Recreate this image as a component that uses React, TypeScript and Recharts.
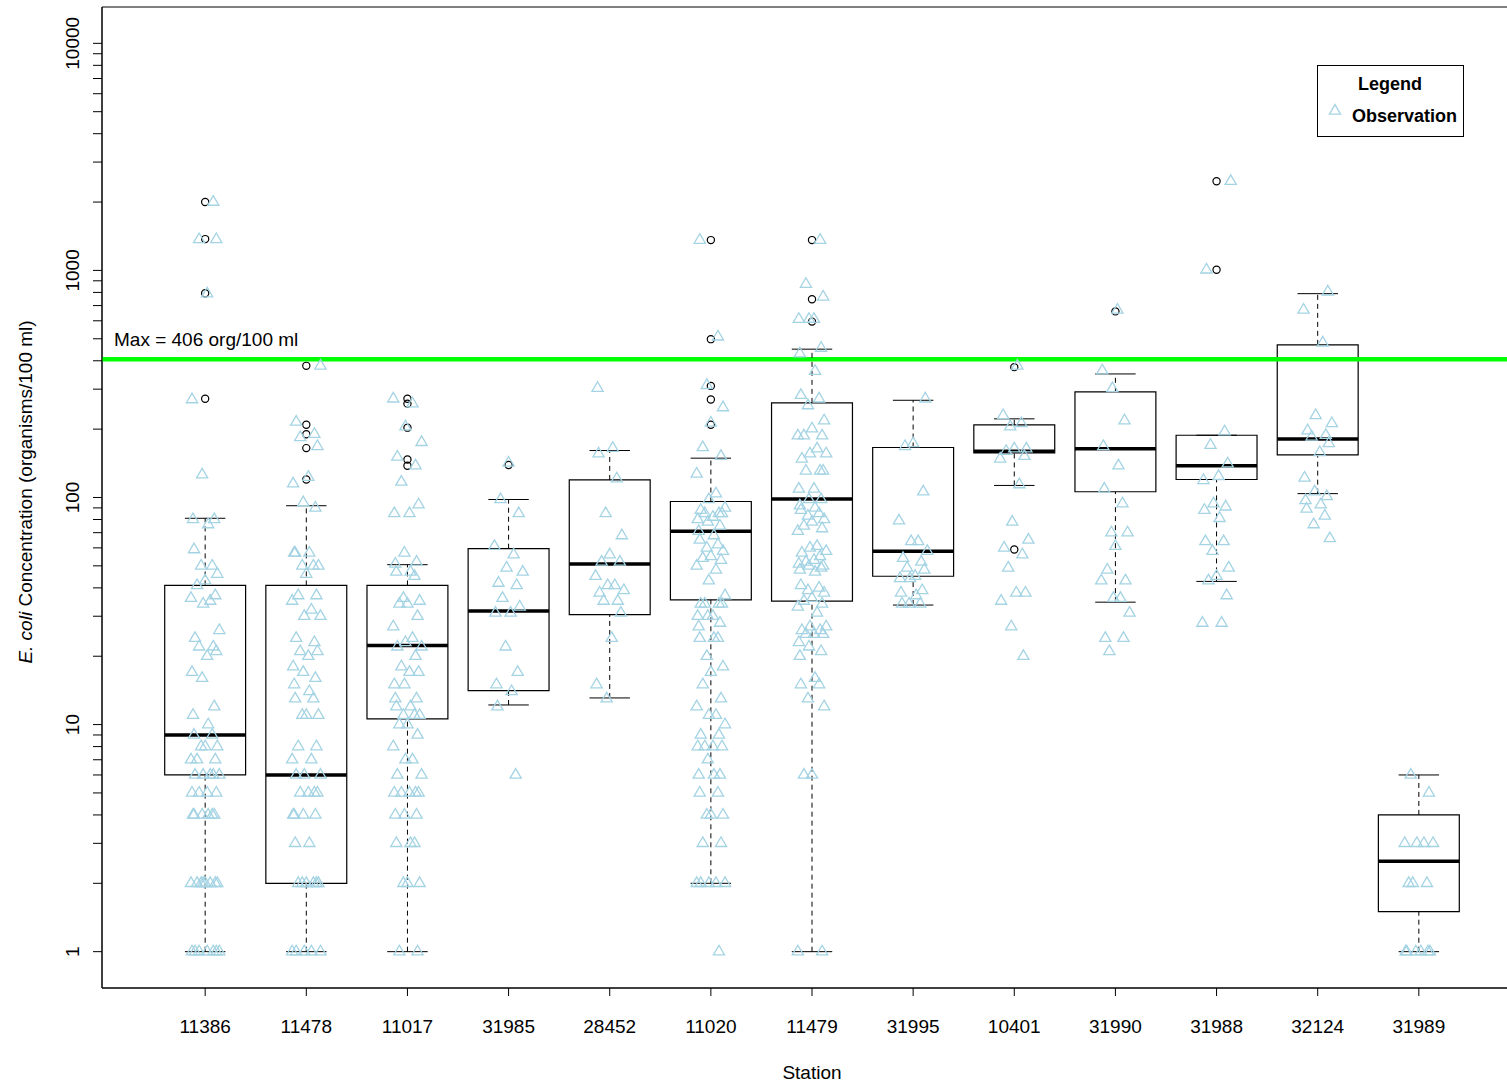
import React from 'react';
import { ComposedChart, Scatter, XAxis, YAxis, ReferenceArea, ReferenceLine, Legend } from 'recharts';

// station order as plotted
const stations = ['11386', '11478', '11017', '31985', '28452', '11020', '11479', '31995', '10401', '31990', '31988', '32124', '31989'];

const obs11386 = [1, 1, 1, 1, 1, 1, 1, 2, 2, 2, 2, 2, 2, 2, 2, 4, 4, 4, 4, 4, 4, 5, 5, 5, 5, 6, 6, 6, 6, 6, 7, 7, 7, 8, 8, 8, 9, 9, 10, 11, 12, 16, 17, 20, 21, 22, 22, 24, 26, 34, 35, 36, 37, 41, 43, 46, 50, 50, 59, 76, 80, 80, 126, 270, 790, 1370, 1370, 2000];
const obs11478 = [1, 1, 1, 1, 1, 2, 2, 2, 2, 2, 2, 3, 3, 4, 4, 4, 4, 5, 5, 5, 5, 6, 6, 6, 7, 7, 8, 8, 11, 11, 11, 13, 13, 14, 15, 16, 17, 18, 20, 21, 21, 23, 24, 30, 30, 32, 35, 37, 37, 46, 50, 50, 50, 57, 57, 57, 90, 95, 115, 123, 168, 184, 190, 215, 380];
const obs11017 = [1, 1, 2, 2, 2, 3, 3, 3, 4, 4, 4, 5, 5, 5, 5, 5, 6, 6, 7, 7, 8, 9, 10, 10, 11, 11, 11, 12, 12, 13, 13, 15, 15, 17, 17, 18, 20, 22, 22, 23, 24, 27, 30, 34, 34, 35, 36, 45, 47, 47, 51, 52, 57, 85, 85, 93, 117, 138, 151, 175, 205, 259, 272];
const obs31985 = [6, 12, 14, 15, 17, 22, 31, 31, 33, 36, 41, 42, 47, 49, 56, 61, 85, 98, 142];
const obs28452 = [13, 15, 24, 31, 35, 35, 38, 39, 41, 41, 45, 52, 52, 56, 68, 85, 121, 156, 165, 303];
const obs11020 = [1, 2, 2, 2, 2, 2, 3, 3, 4, 4, 4, 5, 5, 6, 6, 6, 7, 8, 8, 8, 8, 9, 9, 10, 11, 11, 12, 13, 15, 17, 18, 20, 24, 24, 24, 27, 28, 30, 30, 30, 34, 34, 34, 34, 37, 43, 48, 50, 53, 54, 55, 58, 60, 62, 65, 68, 71, 75, 78, 80, 82, 85, 85, 85, 88, 90, 98, 104, 127, 152, 166, 213, 249, 312, 510, 1360];
const obs11479 = [1, 1, 6, 6, 12, 13, 15, 15, 16, 20, 21, 22, 23, 25, 25, 25, 26, 26, 27, 27, 31, 33, 34, 35, 36, 38, 39, 40, 41, 47, 48, 49, 50, 51, 53, 50, 52, 55, 57, 58, 60, 61, 71, 73, 75, 78, 80, 83, 85, 88, 90, 92, 98, 98, 109, 109, 131, 131, 131, 148, 156, 156, 164, 187, 187, 187, 201, 218, 254, 272, 282, 360, 430, 455, 610, 610, 610, 765, 870, 1360];
const obs31995 = [34, 34, 34, 37, 38, 39, 44, 44, 45, 48, 49, 52, 54, 58, 64, 64, 79, 106, 168, 173, 272];
const obs10401 = [20, 27, 35, 38, 38, 49, 56, 60, 65, 78, 114, 148, 152, 160, 164, 164, 205, 212, 230, 380];
const obs31990 = [21, 24, 24, 31, 36, 36, 43, 43, 48, 61, 70, 70, 94, 109, 138, 168, 218, 302, 362, 670];
const obs31988 = [28, 28, 37, 43, 45, 49, 58, 64, 64, 81, 88, 91, 94, 119, 124, 141, 170, 195, 1006, 2470];
const obs32124 = [66, 76, 83, 89, 93, 97, 101, 106, 122, 158, 173, 185, 188, 197, 212, 230, 480, 670, 805];
const obs31989 = [1, 1, 1, 1, 1, 1, 2, 2, 2, 3, 3, 3, 3, 5, 6];

const observations = [obs11386, obs11478, obs11017, obs31985, obs28452, obs11020, obs11479, obs31995, obs10401, obs31990, obs31988, obs32124, obs31989];

// box statistics per station
const whiskerLow = [1, 1, 1, 12.2, 13.1, 2, 1, 33.6, 113, 34.6, 42.7, 104, 1];
const q1 = [6, 2, 10.6, 14.1, 30.5, 35.4, 35, 45, 157, 106, 120, 154, 1.5];
const medians = [9, 6, 22.3, 31.6, 51, 71, 98.5, 58, 160, 164, 138, 181, 2.5];
const q3 = [41, 41, 41, 59.5, 119.5, 96, 261, 166, 209, 292, 188, 470, 4];
const whiskerHigh = [81, 92, 50.6, 98, 161, 149, 450, 268, 222, 350, 188, 790, 6];

// boxplot outliers (open circles)
const out11386 = [272, 793, 1374, 2000];
const out11478 = [120, 165, 190, 209, 380];
const out11017 = [138, 147, 203, 259, 272];
const out31985 = [139];
const out11020 = [209, 270, 310, 498, 1360];
const out11479 = [595, 746, 1360];
const out10401 = [59, 375];
const out31990 = [660];
const out31988 = [1006, 2470];
const outliers = [out11386, out11478, out11017, out31985, [], out11020, out11479, [], out10401, out31990, out31988, [], []];

const maxLimit = 406;
const yTicks = [1, 2, 3, 4, 5, 6, 7, 8, 9, 10, 20, 30, 40, 50, 60, 70, 80, 90, 100, 200, 300, 400, 500, 600, 700, 800, 900, 1000, 2000, 3000, 4000, 5000, 6000, 7000, 8000, 9000, 10000];
const xTicks = stations.map((_, i) => i + 1);

// horizontal spread for the observation markers
const JITTER = [-0.13, 0.02, 0.11, -0.06, 0.08, -0.1, 0.14, -0.02, 0.05, -0.14, 0.1, -0.08, 0.0, 0.12, -0.04, 0.07, -0.11, 0.03, -0.12, 0.09, -0.03];

const obsPoints = observations.flatMap((vals, i) =>
  vals.map((v, k) => ({ x: i + 1 + JITTER[(k + i * 5) % JITTER.length], y: v }))
);
const outlierPoints = outliers.flatMap((vals, i) => vals.map((v) => ({ x: i + 1, y: v })));

const FONT = '"Liberation Sans", Arial, sans-serif';
const LIGHTBLUE = '#A4D3E3';

const Triangle = (props: any) => {
  const { cx, cy } = props;
  if (cx == null || cy == null) return <g />;
  return (
    <path
      d={`M${cx},${cy - 6.4}L${cx + 5.6},${cy + 3.2}L${cx - 5.6},${cy + 3.2}Z`}
      fill="none"
      stroke={LIGHTBLUE}
      strokeWidth={1.3}
    />
  );
};

const OpenCircle = (props: any) => {
  const { cx, cy } = props;
  if (cx == null || cy == null) return <g />;
  return <circle cx={cx} cy={cy} r={3.6} fill="none" stroke="#000" strokeWidth={1.2} />;
};

const YTick = (props: any) => {
  const { x, y, payload } = props;
  const v = payload.value;
  if (![1, 10, 100, 1000, 10000].includes(v)) return <g />;
  return (
    <text x={x - 12} y={y} transform={`rotate(-90, ${x - 12}, ${y})`} textAnchor="middle" fontFamily={FONT} fontSize={19} fill="#000">
      {v}
    </text>
  );
};

const XTick = (props: any) => {
  const { x, y, payload } = props;
  return (
    <text x={x} y={y + 35} textAnchor="middle" fontFamily={FONT} fontSize={19} fill="#000">
      {stations[payload.value - 1]}
    </text>
  );
};

const YTitle = () => (
  <text x={32} y={492} transform="rotate(-90, 32, 492)" textAnchor="middle" fontFamily={FONT} fontSize={19} fill="#000">
    <tspan fontStyle="italic">E. coli</tspan>
    <tspan> Concentration (organisms/100 ml)</tspan>
  </text>
);

const XTitle = () => (
  <text x={812} y={1079} textAnchor="middle" fontFamily={FONT} fontSize={19} fill="#000">
    Station
  </text>
);

const MaxLabel = (props: any) => {
  const vb = props.viewBox || {};
  return (
    <text x={114} y={(vb.y ?? 360) - 13} fontFamily={FONT} fontSize={19} fill="#000">
      Max = 406 org/100 ml
    </text>
  );
};

const LegendBox = () => (
  <svg width={147} height={72}>
    <rect x={0.5} y={0.5} width={146} height={71} fill="#fff" stroke="#000" strokeWidth={1} />
    <text x={73} y={25} textAnchor="middle" fontFamily={FONT} fontSize={18} fontWeight="bold" fill="#000">Legend</text>
    <path d="M18,39.6L23.6,49.2L12.4,49.2Z" fill="none" stroke={LIGHTBLUE} strokeWidth={1.3} />
    <text x={35} y={57} fontFamily={FONT} fontSize={18} fontWeight="bold" fill="#000">Observation</text>
  </svg>
);

export default function App() {
  return (
    <div style={{ position: 'absolute', left: 0, top: 0, width: 1507, height: 1084, overflow: 'hidden', background: '#fff' }}>
      <ComposedChart width={1530} height={1084} margin={{ top: 7, right: 8, bottom: 0, left: 0 }}>
        <XAxis
          type="number"
          dataKey="x"
          domain={[-0.02, 14.02]}
          allowDataOverflow
          ticks={xTicks}
          interval={0}
          tickSize={8}
          tick={<XTick />}
          height={96}
          stroke="#000"
          label={<XTitle />}
        />
        <YAxis
          type="number"
          dataKey="y"
          scale="log"
          domain={[0.6918, 14454]}
          allowDataOverflow
          ticks={yTicks}
          interval={0}
          tickSize={9}
          tick={<YTick />}
          width={102}
          stroke="#000"
          label={<YTitle />}
        />
        <ReferenceArea x1={-0.02} x2={14.02} y1={0.6918} y2={14454} fill="none" stroke="#000" strokeWidth={1} ifOverflow="visible" />
        <ReferenceLine y={maxLimit} stroke="#00FF00" strokeWidth={4.5} label={<MaxLabel />} />
        {stations.map((s, i) => {
          const x = i + 1;
          return (
            <React.Fragment key={s}>
              <ReferenceLine segment={[{ x, y: whiskerLow[i] }, { x, y: q1[i] }]} stroke="#000" strokeDasharray="5 4" />
              <ReferenceLine segment={[{ x, y: q3[i] }, { x, y: whiskerHigh[i] }]} stroke="#000" strokeDasharray="5 4" />
              <ReferenceLine segment={[{ x: x - 0.2, y: whiskerLow[i] }, { x: x + 0.2, y: whiskerLow[i] }]} stroke="#000" />
              <ReferenceLine segment={[{ x: x - 0.2, y: whiskerHigh[i] }, { x: x + 0.2, y: whiskerHigh[i] }]} stroke="#000" />
              <ReferenceArea x1={x - 0.4} x2={x + 0.4} y1={q1[i]} y2={q3[i]} fill="none" stroke="#000" strokeWidth={1.2} />
              <ReferenceLine segment={[{ x: x - 0.4, y: medians[i] }, { x: x + 0.4, y: medians[i] }]} stroke="#000" strokeWidth={3.5} />
            </React.Fragment>
          );
        })}
        <Scatter data={outlierPoints} dataKey="y" shape={<OpenCircle />} isAnimationActive={false} />
        <Scatter data={obsPoints} dataKey="y" shape={<Triangle />} isAnimationActive={false} />
        <Legend
          layout="horizontal"
          verticalAlign="middle"
          align="center"
          content={<LegendBox />}
          wrapperStyle={{ position: 'absolute', left: 1317, top: 65, width: 147, height: 72 }}
        />
      </ComposedChart>
    </div>
  );
}
